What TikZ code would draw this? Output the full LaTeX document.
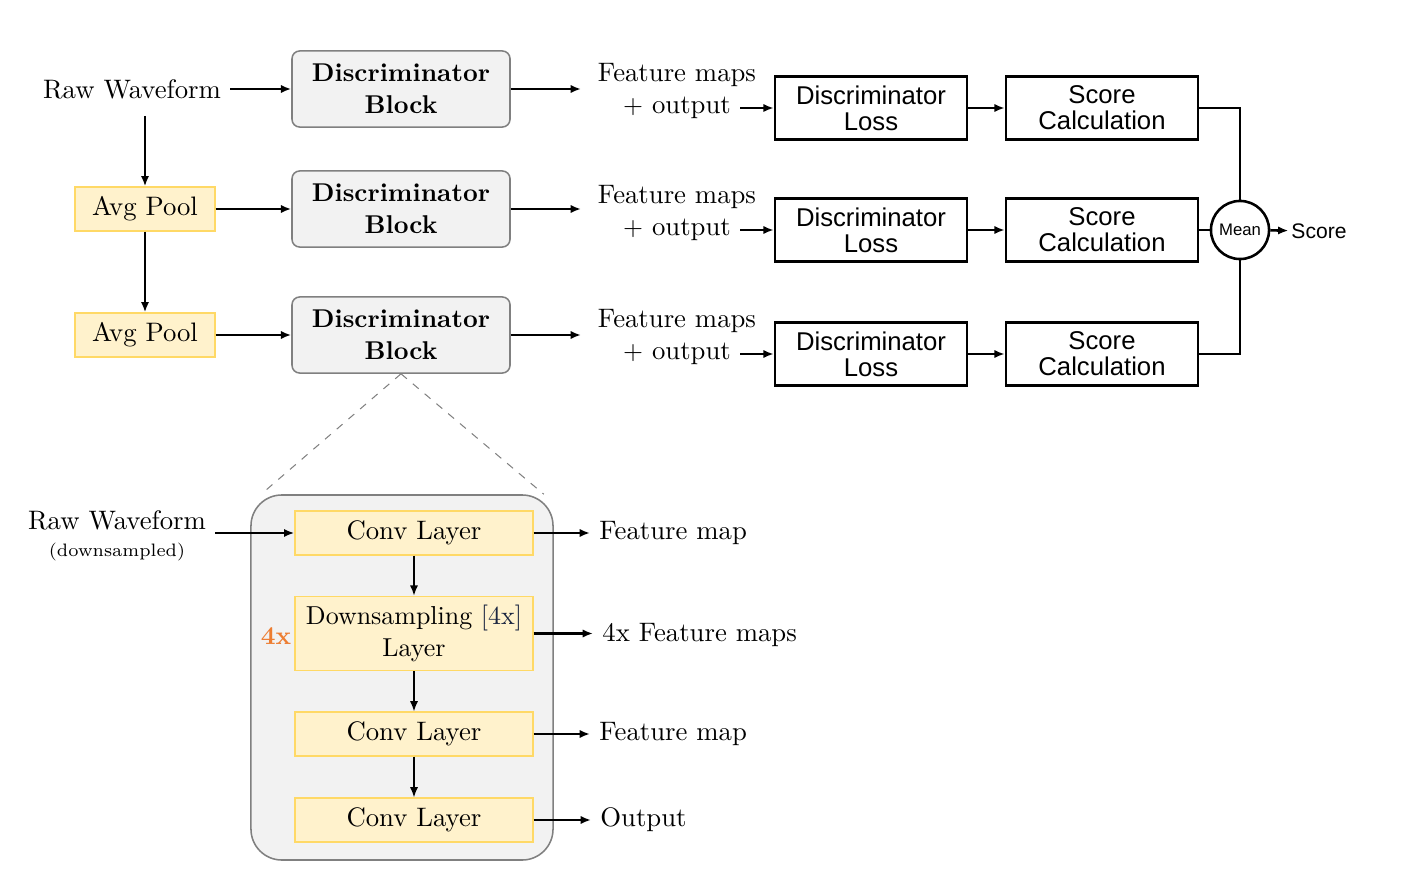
\documentclass[tikz,border=0pt]{standalone}
\usepackage{fontspec}
\newfontfamily\arialfont{Liberation Sans}
\usepackage{tikz}
\usetikzlibrary{positioning,%
  calc,%
  arrows.meta%
}

\definecolor{blockgray}{HTML}{F2F2F2}
\definecolor{poolfill}{HTML}{FFF2CC}
\definecolor{pooldraw}{HTML}{FFD966}
\definecolor{repeatorange}{HTML}{ED7D31}
\definecolor{repeatnavy}{HTML}{1A2540}

\tikzset{
  px/.style={x=0.389pt,y=-0.389pt},
  discblock/.style={draw=gray,fill=blockgray,rounded corners=3pt,line width=0.6pt,
    minimum width=84.8pt,minimum height=29.6pt,align=center,
    font={\fontsize{10}{12.4}\selectfont\bfseries}},
  poolbox/.style={draw=pooldraw,fill=poolfill,line width=0.5pt,
    minimum width=54.5pt,minimum height=17.1pt},
  layerbox/.style={draw=pooldraw,fill=poolfill,line width=0.5pt,
    minimum width=92.6pt,minimum height=17.1pt,align=center},
  lossbox/.style={draw,line width=1pt,minimum width=74.7pt,minimum height=24.5pt,
    align=center,font={\arialfont\fontsize{10}{10}\selectfont}},
  meancircle/.style={circle,draw,line width=1pt,minimum size=22.6pt,inner sep=0pt,
    font={\arialfont\fontsize{6.5}{7}\selectfont}},
  detailbox/.style={draw=gray,fill=blockgray,rounded corners=12pt,line width=0.6pt,
    minimum width=117.5pt,minimum height=142pt},
  leftline/.style={line width=0.8pt},
  rightline/.style={line width=1pt},
  thinline/.style={line width=0.6pt}
}

\begin{document}
\fontsize{10.4}{12.4}\selectfont
\begin{tikzpicture}[px,>={Latex[length=4pt,width=3.2pt]}]
  \useasboundingbox (0,0) rectangle (1415,874);

  % upper part: three scales
  \node (raw) at (132,89) {Raw Waveform};
  \node[poolbox] (pool1) at (145,209) {Avg Pool};
  \node[poolbox] (pool2) at (145,335) {Avg Pool};
  \node[discblock] (disc1) at (401,89) {Discriminator\\Block};
  \node[discblock] (disc2) at (401,209) {Discriminator\\Block};
  \node[discblock] (disc3) at (401,335) {Discriminator\\Block};
  \coordinate (out1) at (581,89);
  \coordinate (out2) at (581,209);
  \coordinate (out3) at (581,335);

  \draw[->,leftline] (raw.east) -- (disc1.west);
  \draw[->,leftline,shorten <=3pt] (raw.south -| pool1.north) -- (pool1.north);
  \draw[->,leftline] (pool1) -- (pool2);
  \draw[->,leftline] (pool1) -- (disc2);
  \draw[->,leftline] (pool2) -- (disc3);
  \foreach \i in {1,2,3}
    \draw[->,leftline] (disc\i.east) -- (out\i);

  % losses and scores
  \foreach \i/\y in {1/108,2/230,3/354}{
    \node (fm\i) at (677,\y-33) {Feature maps};
    \node (po\i) at (677,\y) {$+$ output};
    \node[lossbox] (loss\i) at (871,\y) {Discriminator\\Loss};
    \node[lossbox] (score\i) at (1102,\y) {Score\\Calculation};
    \draw[->,rightline] (po\i.east) -- (loss\i.west);
    \draw[->,rightline] (loss\i) -- (score\i);
  }
  \node[meancircle] (mean) at (1240,230) {Mean};
  \node[font={\arialfont\fontsize{8.2}{10}\selectfont},inner sep=1pt] (score) at (1319,231) {Score};
  \draw[rightline] (score1.east) -| (mean.north);
  \draw[rightline] (score3.east) -| (mean.south);
  \draw[rightline] (score2.east) -- (mean.west);
  \draw[->,rightline] (mean) -- (score);

  % lower part: inside one block
  \node[detailbox] (detail) at (402,677.5) {};
  \draw[dashed,gray] (disc3.south) -- ($(detail.north west)+(11,0)$);
  \draw[dashed,gray] (disc3.south) -- ($(detail.north east)+(-10,0)$);

  \node[layerbox] (conv1) at (414,533) {Conv Layer};
  \node[layerbox,minimum height=27.6pt,inner xsep=1pt,font={\fontsize{10.1}{12.4}\selectfont}] (down) at (414,633.5)
    {Downsampling {\color{repeatnavy}[4x]}\\Layer};
  \node[layerbox] (conv2) at (414,734) {Conv Layer};
  \node[layerbox] (conv3) at (414,820) {Conv Layer};
  \node[text=repeatorange,font={\fontsize{10}{12}\selectfont\bfseries}] (rep) at (276,636) {4x};
  \node[align=center] (rawd) at (117,536) {Raw Waveform\\[-2pt]{\fontsize{7}{8}\selectfont (downsampled)}};

  \node[anchor=west] (fmap1) at (590,533) {Feature map};
  \node[anchor=west] (fmap2) at (593,635) {4x Feature maps};
  \node[anchor=west] (fmap3) at (590,734) {Feature map};
  \node[anchor=west] (outp) at (591,820) {Output};

  \draw[->,leftline] (rawd.east |- conv1.west) -- (conv1.west);
  \draw[->,thinline] (conv1) -- (down);
  \draw[->,thinline] (down) -- (conv2);
  \draw[->,thinline] (conv2) -- (conv3);
  \draw[->,leftline] (conv1.east) -- (fmap1.west);
  \draw[->,leftline] (down.east) -- (fmap2.west |- down.east);
  \draw[->,leftline] (conv2.east) -- (fmap3.west);
  \draw[->,leftline] (conv3.east) -- (outp.west);
\end{tikzpicture}
\end{document}
